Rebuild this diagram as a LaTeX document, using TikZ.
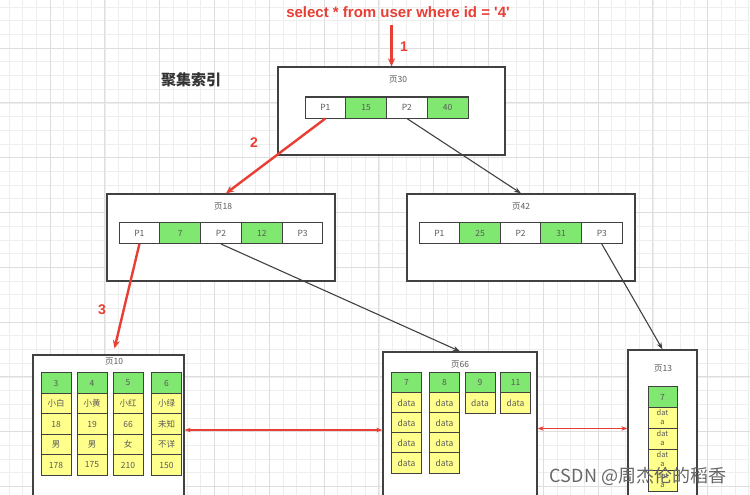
\documentclass[tikz,border=0pt]{standalone}
\usepackage{fontspec}
\setmainfont{Noto Sans CJK SC}
\newfontfamily\lat{Liberation Sans}
\usetikzlibrary{arrows.meta}
\definecolor{keygreen}{RGB}{128,232,112}
\definecolor{rowyellow}{RGB}{255,255,140}
\definecolor{boxline}{RGB}{65,65,65}
\definecolor{txtgray}{RGB}{90,90,90}
\definecolor{qred}{RGB}{232,62,52}
\definecolor{gridminor}{RGB}{238,238,238}
\definecolor{gridmajor}{RGB}{222,222,222}
\tikzset{
  pagebox/.style={draw=boxline,line width=1.3pt,fill=white,inner sep=0pt},
  pagelabel/.style={font=\fontsize{8.5}{9}\selectfont,text=txtgray,inner sep=0pt},
  cellw/.style={draw=boxline,line width=1pt,fill=white,minimum width=40.75pt,minimum height=21pt,inner sep=0pt,font=\fontsize{8.5}{9}\selectfont,text=txtgray},
  cellg/.style={cellw,fill=keygreen},
  leafk/.style={draw=boxline,line width=1pt,fill=keygreen,minimum width=30pt,minimum height=20.5pt,inner sep=0pt,font=\fontsize{8.5}{9}\selectfont,text=txtgray},
  leafd/.style={leafk,fill=rowyellow},
  redarr/.style={draw=qred,line width=2.4pt,-{Stealth[length=8pt,width=7pt]}},
  blkarr/.style={draw=boxline,line width=1.1pt,-{Stealth[length=7pt,width=5pt]}},
  linkarr/.style={draw=qred,line width=1.2pt,{Stealth[length=6pt,width=4.5pt]}-{Stealth[length=6pt,width=4.5pt]}},
  stepnum/.style={text=qred,font=\lat\bfseries\fontsize{14}{15}\selectfont,inner sep=0pt}
}
\begin{document}
\begin{tikzpicture}[x=1pt,y=-1pt]
\useasboundingbox (0,0) rectangle (750,495);
\clip (0,0) rectangle (750,495);
\fill[white] (0,0) rectangle (750,495);
% grid
\foreach \i in {-4,...,52} {
  \draw[gridminor,line width=0.6pt] ({50+13.7*\i},0) -- ++(0,495);
}
\foreach \i in {-4,...,34} {
  \draw[gridminor,line width=0.6pt] (0,{48+13.7*\i}) -- ++(750,0);
}
\foreach \i in {-1,...,13} {
  \draw[gridmajor,line width=0.9pt] ({50+54.8*\i},0) -- ++(0,495);
}
\foreach \i in {-1,...,9} {
  \draw[gridmajor,line width=0.9pt] (0,{48+54.8*\i}) -- ++(750,0);
}

% title
\node[text=qred,font=\lat\bfseries\fontsize{15}{16}\selectfont,inner sep=1pt] (query) at (398,12) {select * from user where id = '4'};
\node[text=black!80,font=\bfseries\fontsize{15}{16}\selectfont,inner sep=0pt] (title) at (191,80) {聚集索引};

% pages
\node[pagebox,minimum width=227pt,minimum height=88pt] (p30) at (391.5,111) {};
\node[pagelabel] (l30) at (398,80) {页30};
\foreach \t/\s [count=\i from 0] in {P1/cellw,15/cellg,P2/cellw,40/cellg}
  \node[\s] (r30c\i) at ({325.4+40.75*\i},107.5) {\t};

\node[pagebox,minimum width=228pt,minimum height=87pt] (p18) at (221,237.5) {};
\node[pagelabel] (l18) at (223,207) {页18};
\foreach \t/\s [count=\i from 0] in {P1/cellw,7/cellg,P2/cellw,12/cellg,P3/cellw}
  \node[\s] (r18c\i) at ({139.4+40.8*\i},233) {\t};

\node[pagebox,minimum width=228pt,minimum height=87pt] (p42) at (521,237.5) {};
\node[pagelabel] (l42) at (521,207) {页42};
\foreach \t/\s [count=\i from 0] in {P1/cellw,25/cellg,P2/cellw,31/cellg,P3/cellw}
  \node[\s] (r42c\i) at ({439.4+40.6*\i},233) {\t};

% leaf pages
\node[pagebox,minimum width=151pt,minimum height=150pt] (p10) at (108.5,430) {};
\node[pagelabel] (l10) at (114,362) {页10};
\foreach \x/\a/\b/\c/\d/\e [count=\k] in {56/3/小白/18/男/178,92/4/小黄/19/男/175,128/5/小红/66/女/210,166.5/6/小绿/未知/不详/150} {
  \node[leafk] (q\k a) at (\x,383) {\a};
  \node[leafd] (q\k b) at (\x,403.5) {\b};
  \node[leafd] (q\k c) at (\x,424) {\c};
  \node[leafd] (q\k d) at (\x,444.5) {\d};
  \node[leafd] (q\k e) at (\x,465) {\e};
}

\node[pagebox,minimum width=154pt,minimum height=153pt] (p66) at (460,428.5) {};
\node[pagelabel] (l66) at (460,365) {页66};
\foreach \x/\a [count=\k] in {406.5/7,444.5/8} {
  \node[leafk] (s\k a) at (\x,382.5) {\a};
  \node[leafd] (s\k b) at (\x,403) {data};
  \node[leafd] (s\k c) at (\x,423) {data};
  \node[leafd] (s\k d) at (\x,443) {data};
  \node[leafd] (s\k e) at (\x,463) {data};
}
\foreach \x/\a [count=\k from 3] in {480/9,515.5/11} {
  \node[leafk] (s\k a) at (\x,382.5) {\a};
  \node[leafd] (s\k b) at (\x,403) {data};
}

\node[pagebox,minimum width=69pt,minimum height=155pt] (p13) at (662.5,427.5) {};
\node[pagelabel] (l13) at (663,369) {页13};
\node[leafk,minimum width=29pt] (u0) at (662.5,397) {7};
\foreach \y [count=\k] in {417.5,438.5,459.5,480.5}
  \node[leafd,minimum width=29pt,minimum height=21pt,align=center,font=\fontsize{7.5}{9}\selectfont] (u\k) at (662.5,\y) {dat\\a};

% connectors
\draw[redarr] ([yshift=-6pt]query.south -| p30.north) -- (p30.north);
\node[stepnum] (n1) at (404,47) {1};
\draw[redarr] (r30c0.south) -- ([xshift=5pt]p18.north);
\node[stepnum] (n2) at (254,143) {2};
\draw[blkarr] (r30c2.south) -- (p42.north);
\draw[redarr] (r18c0.south) -- ([xshift=6pt,yshift=6pt]p10.north);
\node[stepnum] (n3) at (102,310) {3};
\draw[blkarr] (r18c2.south) -- (p66.north);
\draw[blkarr] (r42c4.south) -- (p13.north);
\draw[linkarr] (p10.east) -- (p10.east -| p66.west);
\draw[linkarr] (p66.east) -- (p66.east -| p13.west);

% watermark
\node[text=black!60,font=\fontsize{18}{19}\selectfont,inner sep=0pt] (wm) at (638,476) {CSDN @周杰伦的稻香};
\end{tikzpicture}
\end{document}
